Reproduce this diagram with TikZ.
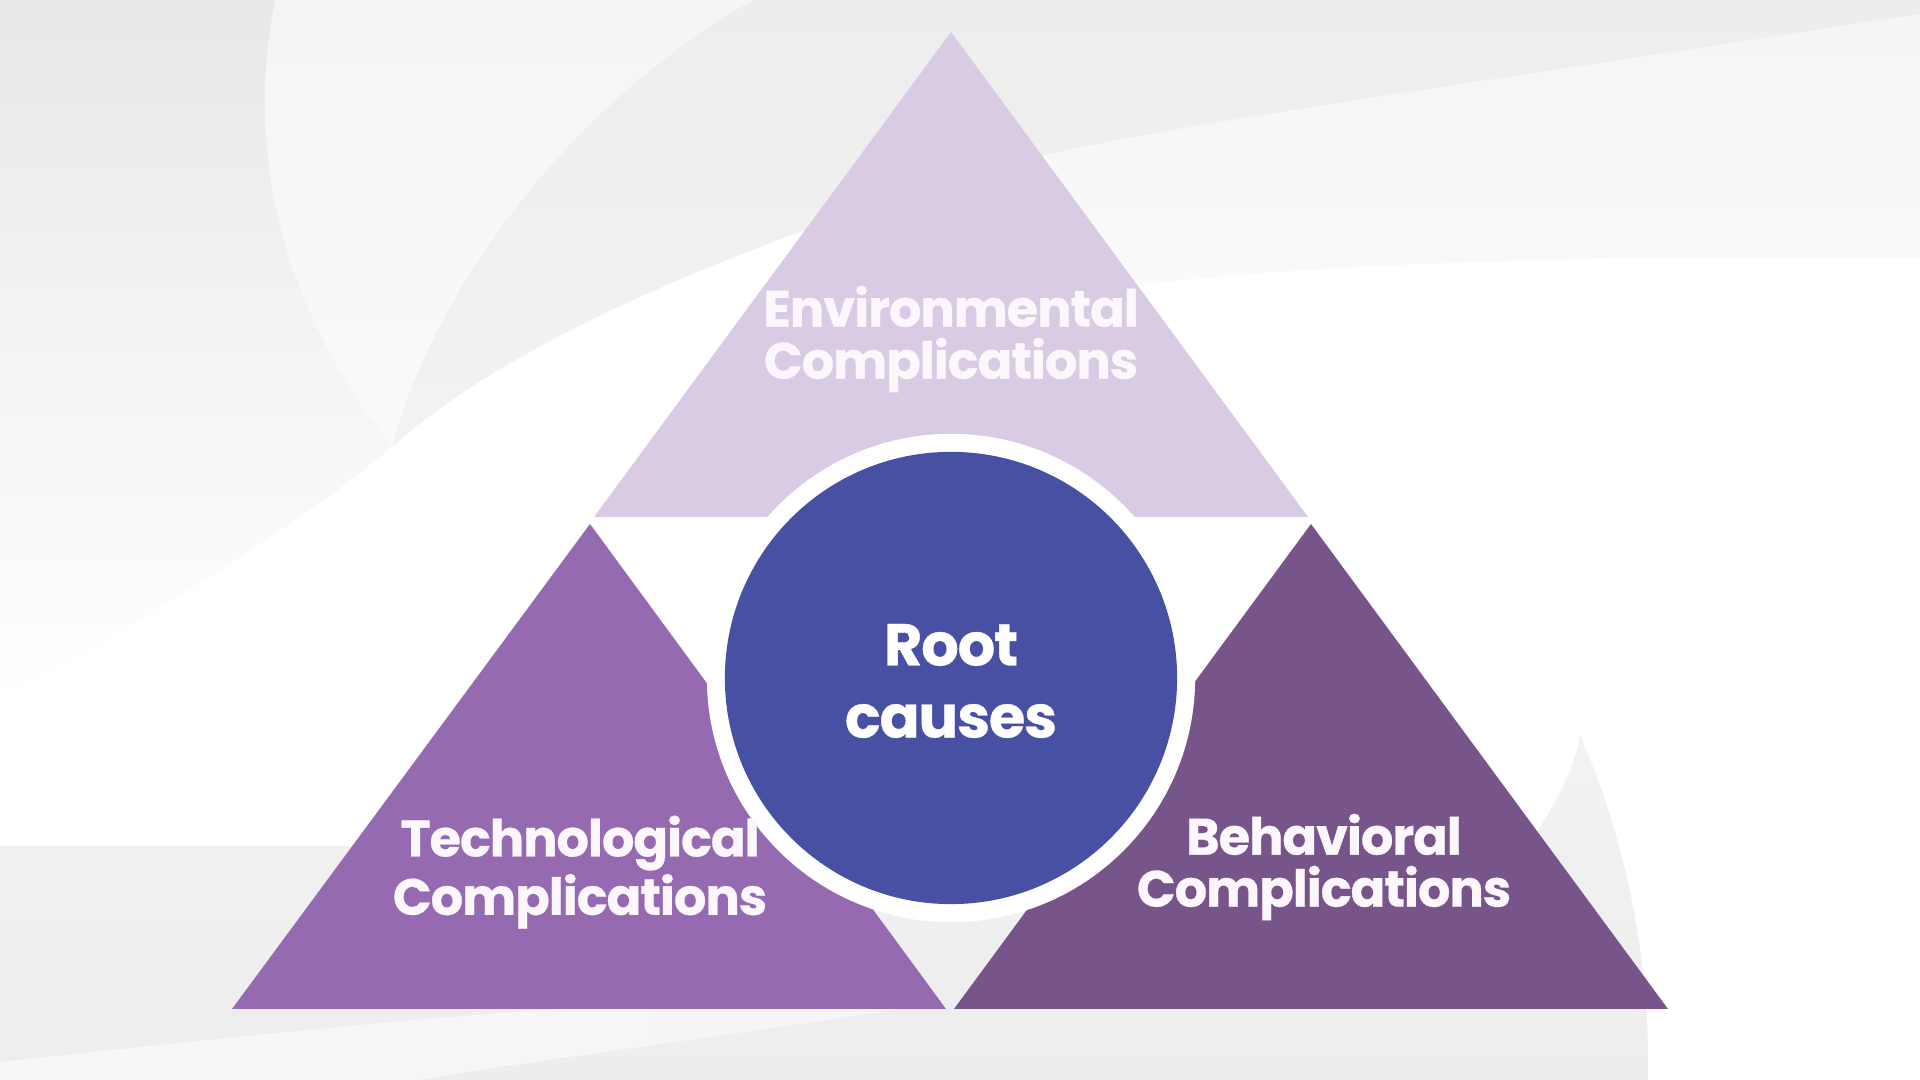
\documentclass[tikz,border=0pt]{standalone}
\usepackage{fontspec}
\setmainfont{Poppins}
\newfontfamily\labfont{Poppins}[LetterSpace=-2,FakeBold=0.6]
\newfontfamily\rootfont{Poppins}[LetterSpace=-2,FakeBold=0.6]
\definecolor{topc}{HTML}{D8CBE3}
\definecolor{leftc}{HTML}{956AB1}
\definecolor{rightc}{HTML}{775489}
\definecolor{circc}{HTML}{4850A4}
\definecolor{txtc}{HTML}{FBF7FD}
\begin{document}
\begin{tikzpicture}[x=0.01cm,y=-0.01cm,
  lab/.style={text=txtc,align=center,inner sep=0pt,font=\labfont\bfseries\fontsize{14.5}{14.8}\selectfont},
  rootlab/.style={text=white,align=center,inner sep=0pt,font=\rootfont\bfseries\fontsize{16.8}{20.5}\selectfont}]
% background
\fill[white] (0,0) rectangle (1920,1080);
\useasboundingbox (0,0) rectangle (1920,1080);
% top gray swoosh (right of arc B, above boundary C)
\shade[top color=black!7, bottom color=black!5]
  (753,0) -- (1920,0) -- (1920,14) .. controls (1500,80) and (1200,120) .. (1046,155)
  .. controls (800,220) and (520,330) .. (392,447)
  .. controls (430,300) and (560,110) .. (753,0) -- cycle;
% lens between arcs A and B (lighter)
\shade[top color=black!4, bottom color=black!2]
  (275,0) -- (753,0) .. controls (560,110) and (430,300) .. (392,447)
  .. controls (300,330) and (240,180) .. (275,0) -- cycle;
% left of arc A
\shade[top color=black!9, bottom color=white]
  (0,0) -- (275,0) .. controls (240,180) and (300,330) .. (392,447)
  .. controls (280,540) and (140,620) .. (0,700) -- cycle;
% right lighter band
\shade[top color=black!4, bottom color=black!2]
  (1046,155) .. controls (1200,120) and (1500,80) .. (1920,14) -- (1920,258)
  .. controls (1600,255) and (1300,262) .. (1100,290) -- cycle;
% bottom gray band below the triangles
\shade[top color=black!5, bottom color=black!7]
  (0,846) -- (400,846) .. controls (700,846) and (1100,900) .. (1400,960)
  .. controls (1500,900) and (1570,800) .. (1580,735)
  .. controls (1630,850) and (1650,970) .. (1648,1080) -- (0,1080) -- cycle;
% whiter diagonal sweep at bottom
\shade[left color=black!3, right color=black!4]
  (0,1080) -- (0,1062) .. controls (250,1035) and (450,1015) .. (560,1009) -- (900,1009) .. controls (700,1040) and (500,1065) .. (420,1080) -- cycle;

% triangles
\fill[topc] (951,32) -- (594,517) -- (1308,517) -- cycle;
\fill[leftc] (590,524) -- (232,1009) -- (946,1009) -- cycle;
\fill[rightc] (1311,524) -- (954,1009) -- (1668,1009) -- cycle;

% circle with white ring
\node[circle,fill=white,minimum size=4.88cm,inner sep=0pt] (ring) at (951,678) {};
\node[circle,fill=circc,minimum size=4.52cm,inner sep=0pt] (core) at (951,678) {};

% labels
\node[lab] (env) at (951,339) {Environmental\\Complications};
\node[lab] (tech) at (580,872) {Technological\\Complications};
\node[lab] (beh) at (1324,867) {Behavioral\\Complications};
\node[rootlab] (root) at (951,681) {Root\\causes};
\end{tikzpicture}
\end{document}
